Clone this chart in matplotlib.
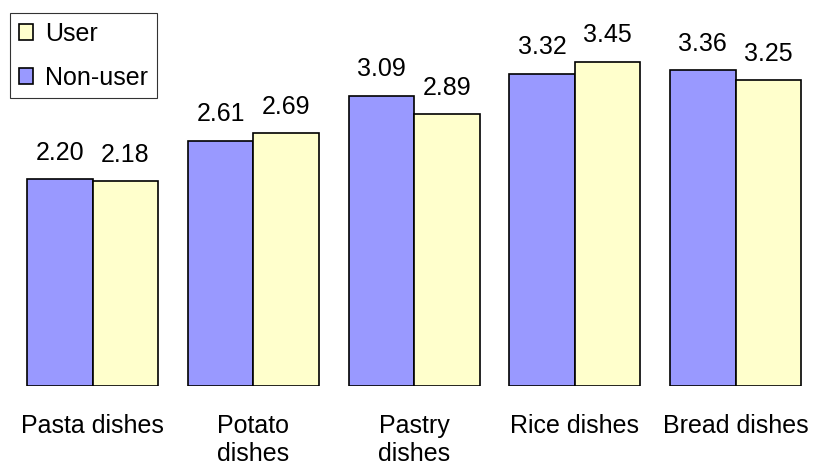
import numpy as np
import matplotlib.pyplot as plt

plt.rcParams['font.family'] = ['Liberation Sans', 'DejaVu Sans']

categories = ['Pasta dishes', 'Potato\ndishes', 'Pastry\ndishes', 'Rice dishes', 'Bread dishes']
non_user = [2.20, 2.61, 3.09, 3.32, 3.36]
user = [2.18, 2.69, 2.89, 3.45, 3.25]

x = np.arange(len(categories))
w = 0.4075

fig = plt.figure(figsize=(8.14, 4.65), dpi=100)
ax = fig.add_axes([0, 79 / 465, 1, 386 / 465])

b1 = ax.bar(x - w / 2, non_user, w, color='#9999FF', edgecolor='black', linewidth=1.2, label='Non-user')
b2 = ax.bar(x + w / 2, user, w, color='#FFFFCC', edgecolor='black', linewidth=1.2, label='User')

# value labels above each bar
for bars, vals in [(b1, non_user), (b2, user)]:
    for bar, v in zip(bars, vals):
        ax.annotate(f'{v:.2f}', (bar.get_x() + bar.get_width() / 2, v),
                    xytext=(0, 14), textcoords='offset points',
                    ha='center', va='baseline', fontsize=18)

ax.set_xlim(-0.5754, 4.488)
ax.set_ylim(0, 4.106)
ax.set_xticks(x)
ax.set_xticklabels(categories, fontsize=18, linespacing=1.2)
ax.tick_params(axis='x', length=0, pad=20)
ax.set_yticks([])
for s in ax.spines.values():
    s.set_visible(False)

leg = ax.legend([b2, b1], ['User', 'Non-user'], loc='upper left',
                bbox_to_anchor=(10 / 814, 1 - 13 / 386), borderaxespad=0,
                fontsize=18, frameon=True, fancybox=False, shadow=False,
                handlelength=0.56, handleheight=0.56, handletextpad=0.48,
                borderpad=0.35, labelspacing=0.8)
leg.get_frame().set_edgecolor('black')
leg.get_frame().set_linewidth(0.8)

fig.savefig('out.png', dpi=100)
